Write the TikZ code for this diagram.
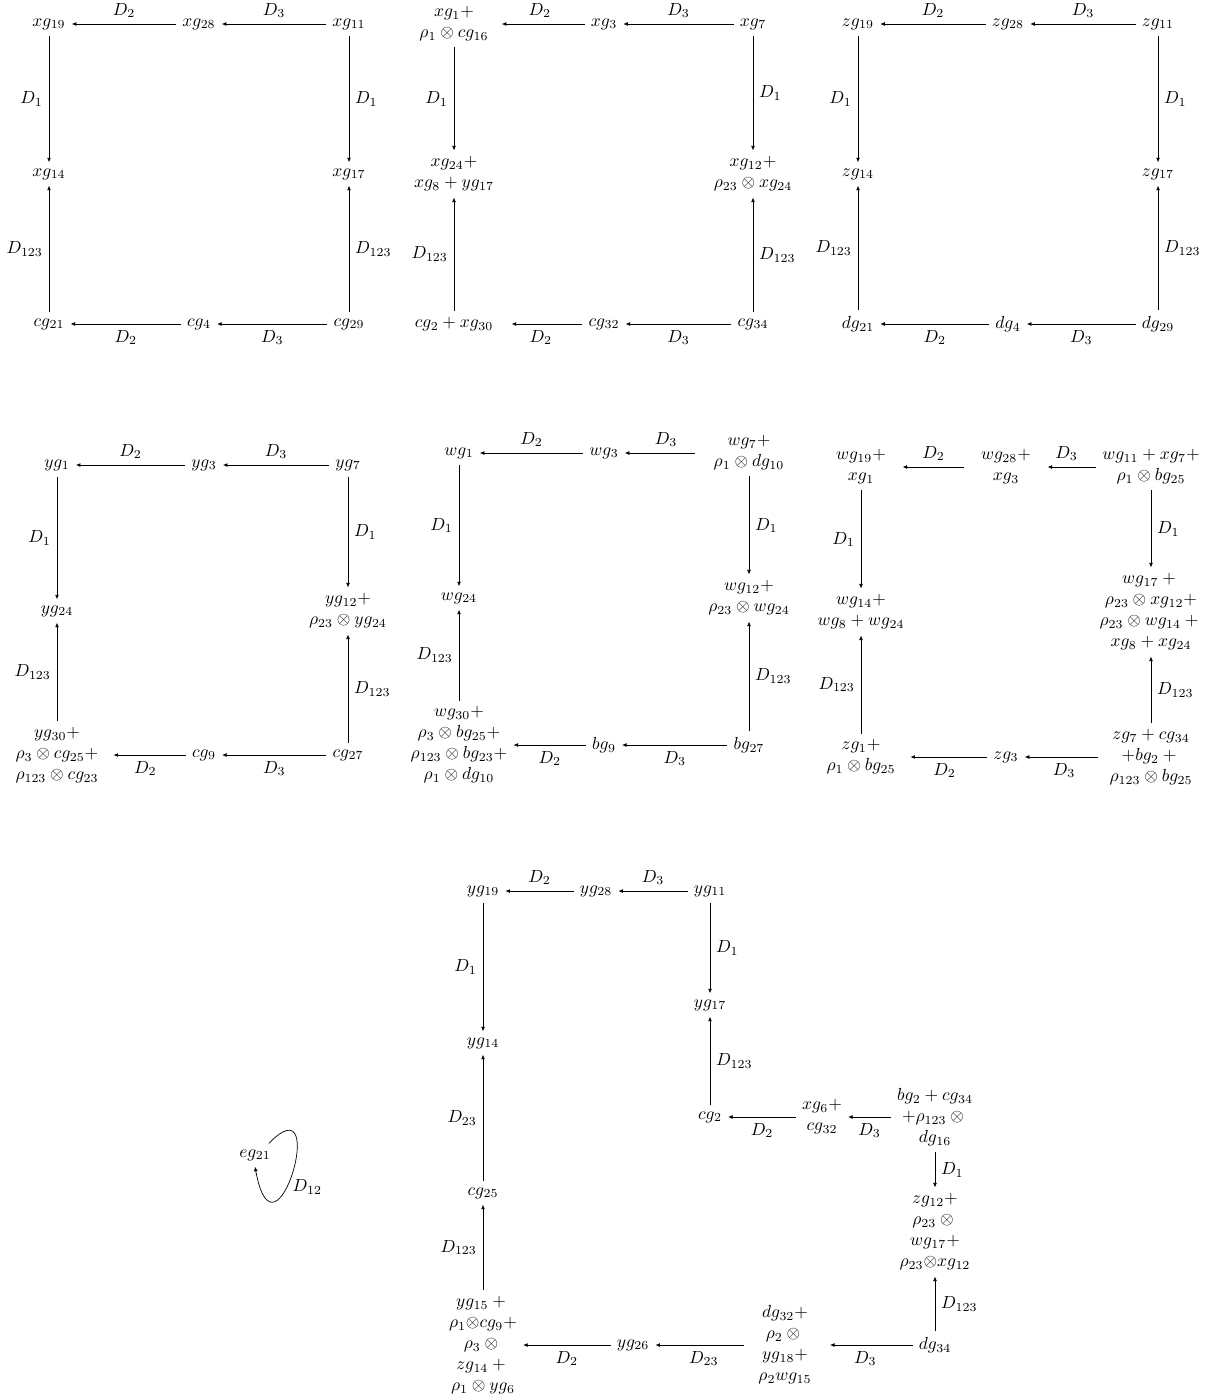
\documentclass[tikz,border=0pt]{standalone}
\usepackage{amsmath,amssymb}
\usetikzlibrary{arrows.meta}

\begin{document}
\begin{tikzpicture}[x=0.5714pt, y=-0.5714pt,
  >={Latex[length=2.6pt,width=2.2pt]},
  stack/.style={align=center}]
\useasboundingbox (0,0) rectangle (1208,1395);

% first square
\node (xg19) at (49,24) {$xg_{19}$};
\node (xg28) at (199,24) {$xg_{28}$};
\node (xg11) at (349,24) {$xg_{11}$};
\node (xg14) at (49,174) {$xg_{14}$};
\node (xg17) at (349,174) {$xg_{17}$};
\node (cg21) at (49,324) {$cg_{21}$};
\node (cg4) at (199,324) {$cg_4$};
\node (cg29) at (349,324) {$cg_{29}$};
\draw[->] (xg28) -- node[above] {$D_2$} (xg19);
\draw[->] (xg11) -- node[above] {$D_3$} (xg28);
\draw[->] (xg19) -- node[left] {$D_1$} (xg14);
\draw[->] (xg11) -- node[right] {$D_1$} (xg17);
\draw[->] (cg21) -- node[left] {$D_{123}$} (xg14);
\draw[->] (cg29) -- node[right] {$D_{123}$} (xg17);
\draw[->] (cg4) -- node[below] {$D_2$} (cg21);
\draw[->] (cg29) -- node[below] {$D_3$} (cg4);

% second square
\node[stack] (xg1) at (454,24) {$xg_1+$\\$\rho_1\otimes cg_{16}$};
\node (xg3) at (604,24) {$xg_3$};
\node (xg7) at (753,24) {$xg_7$};
\node[stack] (xg24) at (454,174) {$xg_{24}+$\\$xg_8+yg_{17}$};
\node[stack] (xg12) at (753,174) {$xg_{12}+$\\$\rho_{23}\otimes xg_{24}$};
\node (cg2xg) at (454,324) {$cg_2+xg_{30}$};
\node (cg32) at (604,324) {$cg_{32}$};
\node (cg34) at (753,324) {$cg_{34}$};
\draw[->, shorten >=4pt] (xg3) -- node[above] {$D_2$} (xg1);
\draw[->] (xg7) -- node[above] {$D_3$} (xg3);
\draw[->] (xg1) -- node[left] {$D_1$} (xg24);
\draw[->] (xg7) -- node[right] {$D_1$} (xg12);
\draw[->] (cg2xg) -- node[left] {$D_{123}$} (xg24);
\draw[->] (cg34) -- node[right] {$D_{123}$} (xg12);
\draw[->, shorten >=7pt] (cg32) -- node[below] {$D_2$} (cg2xg);
\draw[->] (cg34) -- node[below] {$D_3$} (cg32);

% third square
\node (zg19) at (858,24) {$zg_{19}$};
\node (zg28) at (1008,24) {$zg_{28}$};
\node (zg11) at (1158,24) {$zg_{11}$};
\node (zg14) at (858,174) {$zg_{14}$};
\node (zg17) at (1158,174) {$zg_{17}$};
\node (dg21) at (858,324) {$dg_{21}$};
\node (dg4) at (1008,324) {$dg_4$};
\node (dg29) at (1158,324) {$dg_{29}$};
\draw[->] (zg28) -- node[above] {$D_2$} (zg19);
\draw[->] (zg11) -- node[above] {$D_3$} (zg28);
\draw[->] (zg19) -- node[left] {$D_1$} (zg14);
\draw[->] (zg11) -- node[right] {$D_1$} (zg17);
\draw[->] (dg21) -- node[left] {$D_{123}$} (zg14);
\draw[->] (dg29) -- node[right] {$D_{123}$} (zg17);
\draw[->] (dg4) -- node[below] {$D_2$} (dg21);
\draw[->] (dg29) -- node[below] {$D_3$} (dg4);

% fourth square
\node (yg1) at (57,465) {$yg_1$};
\node (yg3) at (204,465) {$yg_3$};
\node (yg7) at (348,465) {$yg_7$};
\node (yg24) at (57,611) {$yg_{24}$};
\node[stack] (yg12) at (348,611) {$yg_{12}+$\\$\rho_{23}\otimes yg_{24}$};
\node[stack] (yg30) at (57,755) {$yg_{30}+$\\$\rho_3\otimes cg_{25}+$\\$\rho_{123}\otimes cg_{23}$};
\node (cg9) at (204,755) {$cg_9$};
\node (cg27) at (348,755) {$cg_{27}$};
\draw[->] (yg3) -- node[above] {$D_2$} (yg1);
\draw[->] (yg7) -- node[above] {$D_3$} (yg3);
\draw[->] (yg1) -- node[left] {$D_1$} (yg24);
\draw[->] (yg7) -- node[right] {$D_1$} (yg12);
\draw[->] (yg30) -- node[left] {$D_{123}$} (yg24);
\draw[->] (cg27) -- node[right] {$D_{123}$} (yg12);
\draw[->, shorten >=5pt] (cg9) -- node[below] {$D_2$} (yg30);
\draw[->] (cg27) -- node[below] {$D_3$} (cg9);

% fifth square
\node (wg1) at (459,453) {$wg_1$};
\node (wg3) at (604,453) {$wg_3$};
\node[stack] (wg7) at (749,453) {$wg_7+$\\$\rho_1\otimes dg_{10}$};
\node (wg24) at (459,598) {$wg_{24}$};
\node[stack] (wg12) at (749,598) {$wg_{12}+$\\$\rho_{23}\otimes wg_{24}$};
\node[stack] (wg30) at (459,745) {$wg_{30}+$\\$\rho_3\otimes bg_{25}+$\\$\rho_{123}\otimes bg_{23}+$\\$\rho_1\otimes dg_{10}$};
\node (bg9) at (604,745) {$bg_9$};
\node (bg27) at (749,745) {$bg_{27}$};
\draw[->] (wg3) -- node[above] {$D_2$} (wg1);
\draw[->, shorten <=7pt] (wg7) -- node[above] {$D_3$} (wg3);
\draw[->] (wg1) -- node[left] {$D_1$} (wg24);
\draw[->] (wg7) -- node[right] {$D_1$} (wg12);
\draw[->] (wg30) -- node[left] {$D_{123}$} (wg24);
\draw[->] (bg27) -- node[right] {$D_{123}$} (wg12);
\draw[->] (bg9) -- node[below] {$D_2$} (wg30);
\draw[->] (bg27) -- node[below] {$D_3$} (bg9);

% sixth square
\node[stack] (wg19) at (861,467) {$wg_{19}+$\\$xg_1$};
\node[stack] (wg28) at (1006,467) {$wg_{28}+$\\$xg_3$};
\node[stack] (wg11) at (1151,467) {$wg_{11}+xg_7+$\\$\rho_1\otimes bg_{25}$};
\node[stack] (wg14) at (861,612) {$wg_{14}+$\\$wg_8+wg_{24}$};
\node[stack] (wg17) at (1151,612) {$wg_{17}+{}$\\$\rho_{23}\otimes xg_{12}+$\\$\rho_{23}\otimes wg_{14}+{}$\\$xg_8+xg_{24}$};
\node[stack] (zg1) at (861,757) {$zg_1+$\\$\rho_1\otimes bg_{25}$};
\node (zg3) at (1006,757) {$zg_3$};
\node[stack] (zg7) at (1151,757) {$zg_7+cg_{34}$\\$+bg_2+{}$\\$\rho_{123}\otimes bg_{25}$};
\draw[->, shorten <=6pt, shorten >=6pt] (wg28) -- node[above] {$D_2$} (wg19);
\draw[->, shorten >=6pt] (wg11) -- node[above] {$D_3$} (wg28);
\draw[->] (wg19) -- node[left] {$D_1$} (wg14);
\draw[->] (wg11) -- node[right] {$D_1$} (wg17);
\draw[->] (zg1) -- node[left] {$D_{123}$} (wg14);
\draw[->] (zg7) -- node[right] {$D_{123}$} (wg17);
\draw[->, shorten >=5pt] (zg3) -- node[below] {$D_2$} (zg1);
\draw[->, shorten <=3pt] (zg7) -- node[below] {$D_3$} (zg3);

% the long cycle
\node (yg19) at (483,891) {$yg_{19}$};
\node (yg28) at (596,891) {$yg_{28}$};
\node (yg11) at (710,891) {$yg_{11}$};
\node (yg17) at (710,1005) {$yg_{17}$};
\node (yg14) at (483,1043) {$yg_{14}$};
\node (cg2) at (710,1117) {$cg_2$};
\node[stack] (xg6) at (822,1117) {$xg_6+$\\$cg_{32}$};
\node[stack] (bg2) at (935,1117) {$bg_2+cg_{34}$\\$+\rho_{123}\otimes{}$\\$dg_{16}$};
\node[stack] (zg12) at (935,1232) {$zg_{12}+$\\$\rho_{23}\otimes{}$\\$wg_{17}+$\\$\rho_{23}{\otimes}xg_{12}$};
\node (cg25) at (483,1193) {$cg_{25}$};
\node[stack] (yg15) at (483,1345) {$yg_{15}+{}$\\$\rho_1{\otimes}cg_9+$\\$\rho_3\otimes{}$\\$zg_{14}+{}$\\$\rho_1\otimes yg_6$};
\node (yg26) at (633,1345) {$yg_{26}$};
\node[stack] (dg32) at (785,1345) {$dg_{32}+$\\$\rho_2\otimes{}$\\$yg_{18}+$\\$\rho_2wg_{15}$};
\node (dg34) at (935,1345) {$dg_{34}$};
\draw[->] (yg28) -- node[above] {$D_2$} (yg19);
\draw[->] (yg11) -- node[above] {$D_3$} (yg28);
\draw[->] (yg19) -- node[left] {$D_1$} (yg14);
\draw[->] (yg11) -- node[right] {$D_1$} (yg17);
\draw[->] (cg2) -- node[right] {$D_{123}$} (yg17);
\draw[->] (xg6) -- node[below] {$D_2$} (cg2);
\draw[->] (bg2) -- node[below] {$D_3$} (xg6);
\draw[->] (bg2) -- node[right] {$D_1$} (zg12);
\draw[->] (dg34) -- node[right] {$D_{123}$} (zg12);
\draw[->, shorten >=7pt] (dg34) -- node[below] {$D_3$} (dg32);
\draw[->, shorten <=5pt] (dg32) -- node[below] {$D_{23}$} (yg26);
\draw[->] (yg26) -- node[below] {$D_2$} (yg15);
\draw[->] (yg15) -- node[left] {$D_{123}$} (cg25);
\draw[->] (cg25) -- node[left] {$D_{23}$} (yg14);

% loop
\node (eg21) at (255,1155) {$eg_{21}$};
\draw[->] (eg21.40) .. controls +(62,-64) and +(20,109) .. node[pos=0.6, right] {$D_{12}$} (eg21.south);
\end{tikzpicture}
\end{document}
